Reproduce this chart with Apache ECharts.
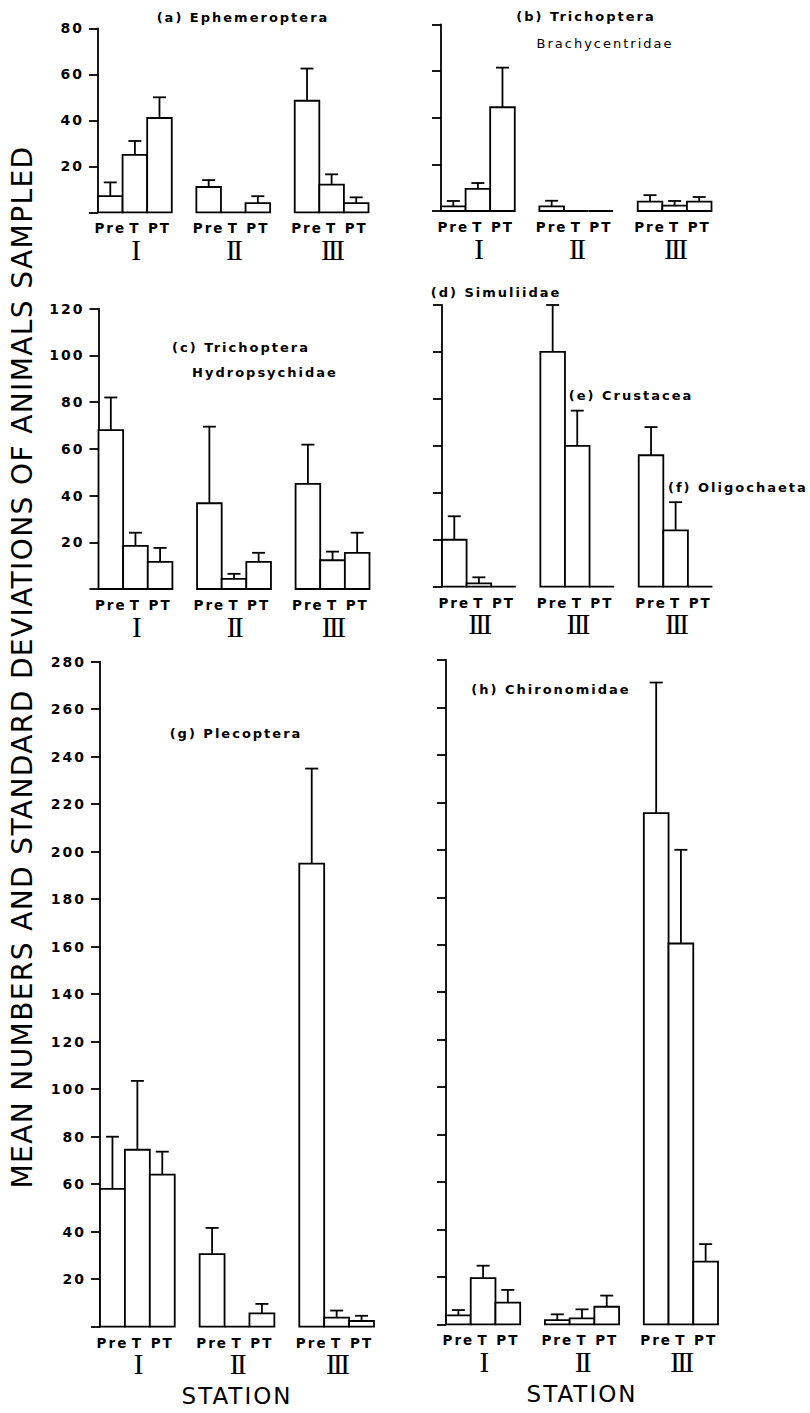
<!DOCTYPE html>
<html><head><meta charset="utf-8">
<script src="https://cdn.jsdelivr.net/npm/echarts@6/dist/echarts.min.js"></script>
<style>
html,body{margin:0;padding:0;background:#fff;}
#c{width:810px;height:1413px;}
#c text{letter-spacing:2px;}
#c text[style*="28px"]{letter-spacing:1.4px;}
#c text[style*="Liberation Serif"]{letter-spacing:-2.5px;}
</style></head><body><div id="c"></div>
<script>
// ---------------- data ----------------
const treatments = ['Pre', 'T', 'PT'];

// (a) Ephemeroptera
const aStations = ['I', 'II', 'III'];
const aMean = [7, 25, 41, 11, 0, 4, 48.5, 12, 4];
const aSD   = [6, 6, 9, 3, 0, 3, 14, 4.5, 2.5];

// (b) Trichoptera Brachycentridae
const bStations = ['I', 'II', 'III'];
const bMean = [2, 9.5, 44.5, 2, 0, 0, 4, 2.3, 4];
const bSD   = [2.3, 2.5, 17, 2.4, 0, 0, 2.8, 2, 2];

// (c) Trichoptera Hydropsychidae
const cStations = ['I', 'II', 'III'];
const cMean = [68, 18.5, 11.6, 36.7, 4.3, 11.6, 45, 12.3, 15.5];
const cSD   = [14, 5.6, 6, 32.8, 2.2, 3.9, 16.8, 3.7, 8.6];

// (d) Simuliidae, (e) Crustacea, (f) Oligochaeta  (all station III)
const defStations = ['III', 'III', 'III'];
const defMean = [20, 1.4, 0, 100, 60, 0, 56, 24, 0];
const defSD   = [10, 2.6, 0, 20, 15, 0, 12, 12, 0];

// (g) Plecoptera
const gStations = ['I', 'II', 'III'];
const gMean = [58, 74.5, 64, 30.6, 0, 5.6, 195, 3.8, 2.4];
const gSD   = [22, 29, 9.7, 11, 0, 4, 40, 3, 2.2];

// (h) Chironomidae
const hStations = ['I', 'II', 'III'];
const hMean = [3.8, 19.5, 9.1, 1.8, 2.5, 7.4, 215.5, 160.5, 26.4];
const hSD   = [2.2, 5.2, 5.4, 2.4, 3.8, 4.7, 55, 39.5, 7.4];

const yMaxes = [80, 80, 120, 120, 280, 280];
const yTitle = 'MEAN NUMBERS AND STANDARD DEVIATIONS OF ANIMALS SAMPLED';
const xTitle = 'STATION';

// ---------------- layout ----------------
const panels = [
  { mean: aMean, sd: aSD, st: aStations, grid: { left: 98,  top: 28.3,  width: 270.5, height: 184 },   labels: true,  station: false },
  { mean: bMean, sd: bSD, st: bStations, grid: { left: 441, top: 24.5,  width: 270.5, height: 186.5 }, labels: false, station: false },
  { mean: cMean, sd: cSD, st: cStations, grid: { left: 98.5, top: 308.7, width: 271, height: 280.3 },  labels: true,  station: false },
  { mean: defMean, sd: defSD, st: defStations, grid: { left: 442, top: 305, width: 270.5, height: 281.7 }, labels: false, station: false },
  { mean: gMean, sd: gSD, st: gStations, grid: { left: 100, top: 661.7, width: 274, height: 665 },     labels: true,  station: true },
  { mean: hMean, sd: hSD, st: hStations, grid: { left: 446, top: 660,   width: 272, height: 664.3 },   labels: false, station: true }
];

const FONT = 'DejaVu Sans';
const LW = 1.8;

function slotCats() {
  const c = [];
  for (let g = 0; g < 3; g++) {
    treatments.forEach(t => c.push(t));
    if (g < 2) c.push('');
  }
  return c;
}
function stationCats(st) {
  const c = [];
  for (let g = 0; g < 3; g++) {
    c.push('', st[g], '');
    if (g < 2) c.push('');
  }
  return c;
}

function renderBar(params, api) {
  const slot = api.value(0), mean = api.value(1), sd = api.value(2);
  const base = api.coord([slot, 0]);
  const top = api.coord([slot, mean]);
  const bw = api.size([1, 0])[0];
  const children = [{
    type: 'rect',
    shape: { x: base[0] - bw / 2, y: top[1], width: bw, height: base[1] - top[1] },
    style: { fill: '#fff', stroke: '#000', lineWidth: LW }
  }];
  if (sd > 0) {
    const et = api.coord([slot, mean + sd]);
    children.push({ type: 'line', shape: { x1: base[0], y1: top[1], x2: base[0], y2: et[1] }, style: { stroke: '#000', lineWidth: LW } });
    children.push({ type: 'line', shape: { x1: base[0] - 6.5, y1: et[1], x2: base[0] + 6.5, y2: et[1] }, style: { stroke: '#000', lineWidth: LW } });
  }
  return { type: 'group', children };
}

const grid = [], xAxis = [], yAxis = [], series = [];
panels.forEach((p, i) => {
  grid.push(Object.assign({ outerBoundsMode: 'none', containLabel: false }, p.grid));
  xAxis.push({
    type: 'category', gridIndex: i, data: slotCats(), position: 'bottom',
    axisLine: { show: false }, axisTick: { show: false },
    axisLabel: { interval: 0, margin: 9, color: '#000', fontFamily: FONT, fontSize: 13.5, fontWeight: 'bold' }
  });
  xAxis.push({
    type: 'category', gridIndex: i, data: stationCats(p.st), position: 'bottom',
    axisLine: { show: false }, axisTick: { show: false },
    axisLabel: { interval: 0, margin: 23, color: '#000', fontFamily: 'Liberation Serif', fontSize: 29 },
    name: p.station ? xTitle : '', nameLocation: 'middle', nameGap: 58,
    nameTextStyle: { color: '#000', fontFamily: FONT, fontSize: 23 }
  });
  yAxis.push({
    type: 'value', gridIndex: i, min: 0, max: yMaxes[i], interval: 20,
    splitLine: { show: false },
    axisLine: { show: true, lineStyle: { color: '#000', width: LW } },
    axisTick: { show: true, length: 9, lineStyle: { color: '#000', width: LW } },
    axisLabel: { show: p.labels, margin: 14, color: '#000', fontFamily: FONT, fontSize: 14, fontWeight: 'bold',
      formatter: v => (v === 0 ? '' : String(v)) }
  });
  const data = p.mean.map((m, k) => [Math.floor(k / 3) * 4 + (k % 3), m, p.sd[k]]);
  series.push({
    type: 'custom', xAxisIndex: i * 2, yAxisIndex: i, data,
    encode: { x: 0, y: 1 }, renderItem: renderBar, silent: true, clip: false
  });
});

function label(text, x, y, size, align, weight) {
  return { type: 'text', x, y, silent: true,
    style: { text, fill: '#000', font: (weight || 'bold') + ' ' + size + 'px "' + FONT + '"', textAlign: align || 'center', textVerticalAlign: 'middle' } };
}

const graphic = [
  label('(a) Ephemeroptera', 243, 17, 13),
  label('(b) Trichoptera', 586, 16, 13),
  label('Brachycentridae', 605, 43, 13, 'center', 'normal'),
  label('(c) Trichoptera', 241, 347, 13),
  label('Hydropsychidae', 265, 372, 13),
  label('(d) Simuliidae', 496, 292, 13),
  label('(e) Crustacea', 631, 395, 13),
  label('(f) Oligochaeta', 668, 487, 13, 'left'),
  label('(g) Plecoptera', 236, 733, 13),
  label('(h) Chironomidae', 551, 689, 13),
  { type: 'text', x: 22.5, y: 667, rotation: Math.PI / 2, silent: true,
    style: { text: yTitle, fill: '#000', font: '28px "' + FONT + '"', textAlign: 'center', textVerticalAlign: 'middle' } }
];

const chart = echarts.init(document.getElementById('c'), null, { renderer: 'svg' });
chart.setOption({
  animation: false,
  backgroundColor: '#fff',
  grid, xAxis, yAxis, series, graphic
});
</script></body></html>
